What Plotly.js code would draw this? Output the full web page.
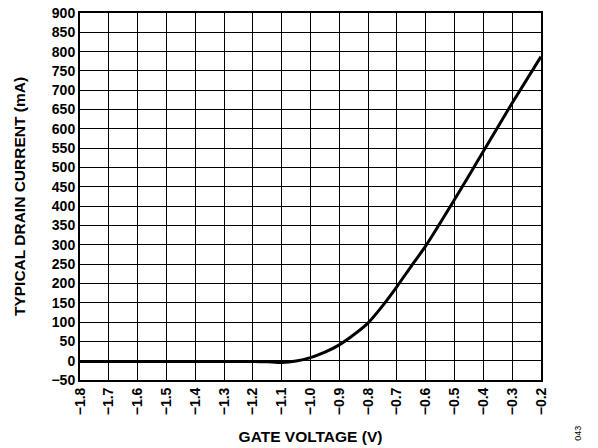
<!DOCTYPE html>
<html><head><meta charset="utf-8">
<script src="https://cdn.plot.ly/plotly-3.0.1.min.js"></script>
<style>body{margin:0;background:#fff}#c{width:598px;height:448px}</style>
</head><body><div id="c"></div>
<script>
const gateVoltage = [-1.8,-1.7,-1.6,-1.5,-1.4,-1.3,-1.2,-1.15,-1.1,-1.05,-1.0,-0.95,-0.9,-0.85,-0.8,-0.75,-0.7,-0.65,-0.6,-0.5,-0.4,-0.3,-0.2];
const drainCurrent = [-2,-2,-2,-2,-2,-2,-2,-3,-5,-1,8,22,41,67,98,142,192,245,297,417,542,667,787];
const xTicks = [-1.8,-1.7,-1.6,-1.5,-1.4,-1.3,-1.2,-1.1,-1.0,-0.9,-0.8,-0.7,-0.6,-0.5,-0.4,-0.3,-0.2];
const xTickText = ['−1.8','−1.7','−1.6','−1.5','−1.4','−1.3','−1.2','−1.1','−1.0','−0.9','−0.8','−0.7','−0.6','−0.5','−0.4','−0.3','−0.2'];
const yTicks = [-50,0,50,100,150,200,250,300,350,400,450,500,550,600,650,700,750,800,850,900];
const yTickText = ['−50','0','50','100','150','200','250','300','350','400','450','500','550','600','650','700','750','800','850','900'];

const F = 'Liberation Sans, Arial, sans-serif';
Plotly.newPlot('c', [{
  x: gateVoltage, y: drainCurrent, type: 'scatter', mode: 'lines',
  line: {color: '#000', width: 3, shape: 'spline', smoothing: 0.6}
}], {
  width: 598, height: 448,
  margin: {l: 80, r: 57, t: 13, b: 68},
  paper_bgcolor: '#fff', plot_bgcolor: '#fff',
  showlegend: false,
  font: {family: F, color: '#000'},
  xaxis: {
    range: [-1.8, -0.2], tickvals: xTicks, ticktext: xTickText, tickangle: -90,
    tickfont: {family: F, size: 14, color: '#000', weight: 'bold'},
    showgrid: true, gridcolor: '#000', gridwidth: 1, zeroline: false,
    showline: true, linecolor: '#000', linewidth: 2, mirror: true, ticks: '',
    title: {text: '<b>GATE VOLTAGE (V)</b>', font: {family: F, size: 15.5, color: '#000'}, standoff: 17}
  },
  yaxis: {
    range: [-50, 900], tickvals: yTicks, ticktext: yTickText,
    tickfont: {family: F, size: 14, color: '#000', weight: 'bold'},
    showgrid: true, gridcolor: '#000', gridwidth: 1, zeroline: false,
    showline: true, linecolor: '#000', linewidth: 2, mirror: true, ticks: '',
    title: {text: '<b>TYPICAL DRAIN CURRENT (mA)</b>', font: {family: F, size: 15.5, color: '#000'}, standoff: 22}
  },
  annotations: [{
    text: '043', xref: 'paper', yref: 'paper', x: 1.095, y: -0.17, showarrow: false,
    textangle: -90, font: {family: F, size: 9, color: '#000'}
  }]
}, {displayModeBar: false, staticPlot: true});
</script></body></html>
